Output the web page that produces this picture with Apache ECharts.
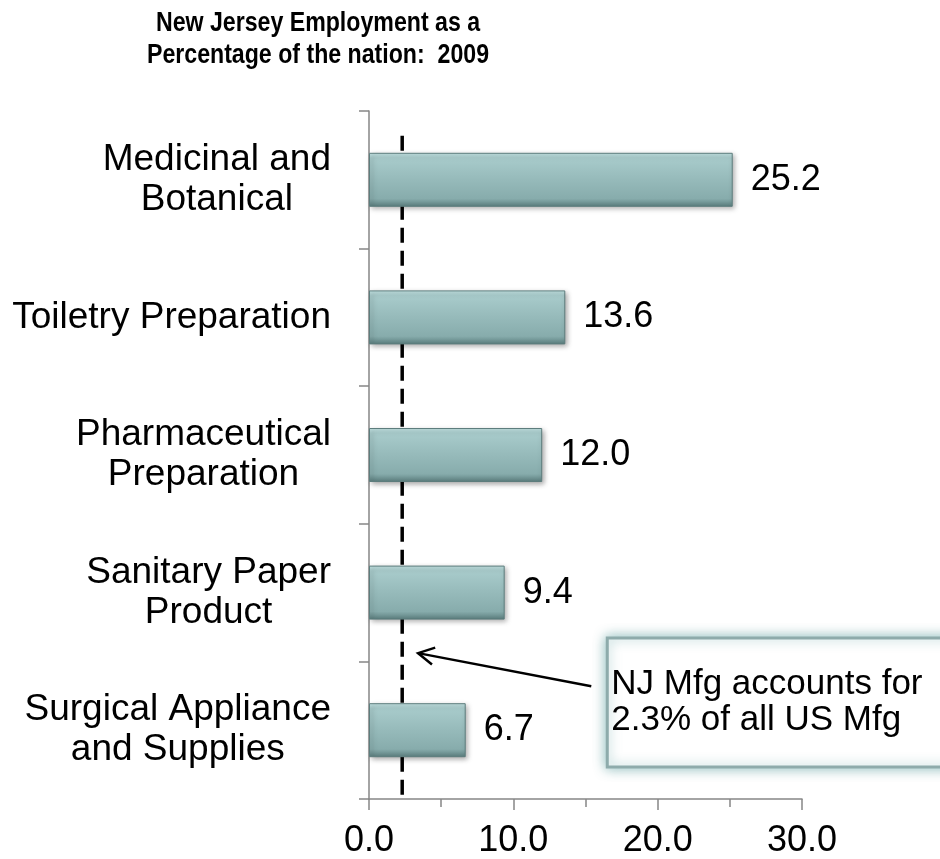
<!DOCTYPE html>
<html>
<head>
<meta charset="utf-8">
<script src="https://cdn.jsdelivr.net/npm/echarts@6/dist/echarts.min.js"></script>
<style>html,body{margin:0;padding:0;background:#fff}#c{width:940px;height:859px}</style>
</head>
<body>
<div id="c"></div>
<script>
const titleLines = ['New Jersey Employment as a', 'Percentage of the nation:  2009'];
const categories = ['Medicinal and\nBotanical', 'Toiletry Preparation', 'Pharmaceutical\nPreparation', 'Sanitary Paper\nProduct', 'Surgical Appliance\nand Supplies'];
const values = [25.2, 13.6, 12.0, 9.4, 6.7];
const nationalShare = 2.3;
const xMin = 0, xMax = 30, xInterval = 10;
const noteText = 'NJ Mfg accounts for\n2.3% of all US Mfg';

const FONT = 'Arial, "Liberation Sans", sans-serif';
const chart = echarts.init(document.getElementById('c'), null, {renderer: 'canvas'});

const barGradient = new echarts.graphic.LinearGradient(0, 0, 0, 1, [
  {offset: 0, color: '#c4e4e4'},
  {offset: 0.1, color: '#a8cbcb'},
  {offset: 0.5, color: '#96baba'},
  {offset: 0.85, color: '#87acac'},
  {offset: 1, color: '#5a7d7d'}
]);

chart.setOption({
  animation: false,
  backgroundColor: '#fff',
  grid: {left: 369, right: 138, top: 111, bottom: 60, containLabel: false},
  xAxis: {
    type: 'value', min: xMin, max: xMax, interval: xInterval,
    axisLine: {show: true, lineStyle: {color: '#868686', width: 1.5}},
    axisTick: {show: true, length: 11, lineStyle: {color: '#868686', width: 1.5}},
    minorTick: {show: true, splitNumber: 2, length: 8, lineStyle: {color: '#868686', width: 1.5}},
    splitLine: {show: false},
    axisLabel: {margin: 24, fontFamily: FONT, fontSize: 36, color: '#000', formatter: v => v.toFixed(1)}
  },
  yAxis: {
    type: 'category', data: categories, inverse: true,
    axisLine: {show: true, lineStyle: {color: '#868686', width: 1.5}},
    axisTick: {show: true, length: 10, lineStyle: {color: '#868686', width: 1.5}},
    axisLabel: {
      margin: 38, fontFamily: FONT, fontSize: 37, color: '#000', align: 'right',
      formatter: v => v.split('\n').map(s => '{c|' + s + '}').join('\n'),
      rich: {c: {align: 'center', fontFamily: FONT, fontSize: 37, lineHeight: 40, color: '#000'}}
    }
  },
  series: [{
    type: 'bar', data: values, barWidth: 54, z: 3,
    itemStyle: {
      color: barGradient, borderColor: '#5d7d7d', borderWidth: 1,
      shadowBlur: 5, shadowColor: 'rgba(0,0,0,0.35)', shadowOffsetX: 2, shadowOffsetY: 2
    },
    label: {show: true, position: 'right', distance: 18, fontFamily: FONT, fontSize: 36, color: '#000', formatter: p => p.value.toFixed(1)}
  }]
});

// reference line, annotation box and arrow, placed through the chart's coordinate system
function px(xVal, yIdx) {
  const i = Math.floor(yIdx), f = yIdx - i;
  const a = chart.convertToPixel({gridIndex: 0}, [xVal, i]);
  const b = chart.convertToPixel({gridIndex: 0}, [xVal, i + 1]);
  return [a[0], a[1] + f * (b[1] - a[1])];
}
const refTop = px(nationalShare, -0.32);
const refBot = px(nationalShare, 4.5);
const tip = px(3.4, 3.44);
const tail = px(15.4, 3.68);
const ang = Math.atan2(tail[1] - tip[1], tail[0] - tip[0]);
const hl = 18, ha = 0.5;
const h1 = [tip[0] + hl * Math.cos(ang + ha), tip[1] + hl * Math.sin(ang + ha)];
const h2 = [tip[0] + hl * Math.cos(ang - ha), tip[1] + hl * Math.sin(ang - ha)];
const boxL = tail[0] + 16, boxT = 638, boxB = 767;

chart.setOption({
  graphic: [
    {type: 'line', z: 1, shape: {x1: refTop[0], y1: refTop[1], x2: refBot[0], y2: refBot[1]},
     style: {stroke: '#000', lineWidth: 3.5, lineDash: [15, 8]}},
    {type: 'text', x: 318, y: 8, scaleX: 0.857, originX: 0, z: 20,
     style: {text: titleLines.join('\n'), font: 'bold 27px ' + FONT, fill: '#000', align: 'center', lineHeight: 32}},
    {type: 'rect', shape: {x: boxL, y: boxT, width: 400, height: boxB - boxT}, z: 10,
     style: {fill: '#fff', stroke: '#8eabab', lineWidth: 3, shadowBlur: 12, shadowColor: 'rgba(110,170,170,0.75)'}},
    {type: 'text', x: boxL + 4, y: boxT + 28, z: 11,
     style: {text: noteText, font: '35px ' + FONT, fill: '#000', lineHeight: 36}},
    {type: 'line', shape: {x1: tail[0], y1: tail[1], x2: tip[0], y2: tip[1]}, z: 10, style: {stroke: '#000', lineWidth: 2.5}},
    {type: 'polyline', shape: {points: [h1, tip, h2]}, z: 10, style: {stroke: '#000', lineWidth: 2.5, fill: null}}
  ]
});
</script>
</body>
</html>
